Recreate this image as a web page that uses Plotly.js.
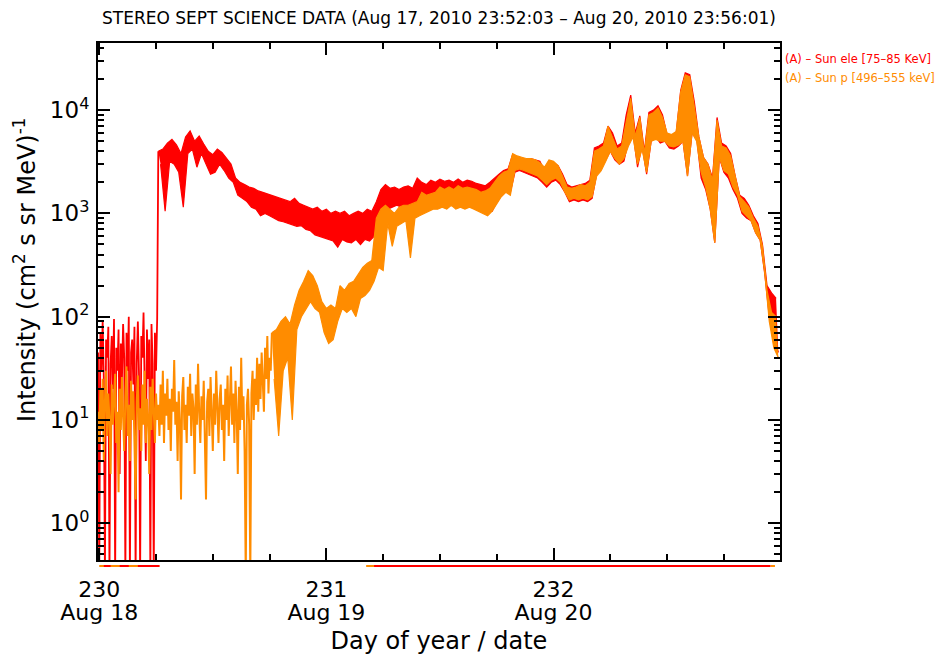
<!DOCTYPE html>
<html>
<head>
<meta charset="utf-8">
<script src="https://cdn.plot.ly/plotly-3.0.1.min.js"></script>
<style>html,body{margin:0;padding:0;background:#fff;}#chart{width:939px;height:655px;}</style>
</head>
<body>
<div id="chart"></div>
<script>
// ---- Finely sampled noisy parts, one value every 0.005 day from the first sample
const tEarly0 = 229.995;
const dtEarly = 0.005;
// electrons before the onset (229.995 - 230.255)
const eleEarly = [
  45, 0.3, 70, 30, 90, 25, 0.3, 60, 40, 80,
  0.3, 35, 65, 20, 95, 0.3, 50, 30, 75, 3,
  55, 25, 85, 40, 0.3, 70, 30, 100, 0.3, 45,
  60, 22, 80, 0.3, 35, 90, 28, 0.3, 65, 40,
  110, 30, 4, 75, 25, 60, 0.3, 85, 35, 0.3,
  70, 30, 95
];
// protons (229.995 - 230.755)
const proEarly = [
  12, 6, 20, 8, 25, 4, 15, 30, 7, 18,
  10, 3, 22, 9, 16, 28, 6, 12, 2, 20,
  8, 26, 11, 5, 17, 33, 7, 14, 4, 24,
  10, 19, 6, 1.7, 15, 27, 8, 13, 5, 22,
  9, 30, 6, 16, 11, 3, 21, 8, 25, 12,
  6, 18, 10,
  14, 7, 22, 9, 30, 6, 18, 11, 25,
  8, 16, 5, 20, 12, 38, 9, 15, 4, 19,
  10, 1.7, 17, 26, 8, 14, 6, 21, 11, 28,
  7, 18, 13, 3, 22, 9, 35, 12, 6, 17,
  10, 24, 8, 1.7, 15, 20, 7, 26, 12, 5,
  18, 9, 30, 11, 6, 16, 22, 8, 14, 4,
  20, 10, 27, 7, 15, 33, 9, 18, 6, 24,
  12, 3, 21, 8, 40, 10, 17, 5, 0.3, 14,
  20, 9, 0.3, 18, 30, 10, 25, 14, 40, 12,
  35, 16, 45, 20, 12, 50, 25, 65, 18, 40, 30
];

// ---- Band envelopes every 0.02 day (upper at t, lower at t+0.01)
const dt = 0.02;
const eleStart = 230.26;
const proStart = 230.76;

// Sun electrons [75-85 keV], from 230.26
const eleHi = [
  4000, 4200, 4800, 5200, 4600, 3800, 5500,
  6300, 5000, 5600, 4700, 4000, 3700, 4200, 3900, 3400, 3000,
  2200, 2000, 1900, 1800, 1750, 1650, 1600, 1550, 1500, 1450,
  1400, 1350, 1300, 1400, 1250, 1200, 1150, 1100, 1150, 1050,
  1100, 1000, 1050, 1000, 1050, 950, 1000, 1050, 1000, 1100,
  1050, 1300, 1700, 1900, 1750, 1800, 1700, 1800, 1850, 1750,
  2200, 2000, 1900, 2100, 2000, 2150, 2050, 2100, 2000, 2150,
  2000, 2100, 2050, 1950, 1900, 1850, 2000, 2200, 2400, 2600,
  2700, 3700, 3500, 3400, 3300, 3400, 3300, 3200, 2600, 3000,
  3100, 2900, 2400, 1900, 1800, 1850, 1900, 1950, 2100, 4300,
  4500, 4800, 7000, 6000, 4500, 4800, 9000, 14000, 6000, 8800,
  4000, 9500, 10000, 11000, 9000, 5800, 5600, 6000, 15500, 23000,
  22000, 12000, 5500, 3500, 3000, 2200, 8500, 4800, 4500, 3800,
  2300, 1500, 1400, 1200, 950, 800, 500, 200, 170, 150
];
const eleLo = [
  3000, 1050, 3200, 3000, 2500, 1150, 3800,
  4200, 2800, 3800, 3000, 2400, 2500, 3000, 2600, 2200, 2000,
  1500, 1400, 1300, 1150, 1100, 950, 1000, 950, 900, 850,
  830, 800, 780, 750, 760, 700, 680, 620, 600, 580,
  560, 540, 470, 560, 530, 520, 560, 500, 560, 540,
  600, 700, 900, 1100, 1150, 1200, 1150, 1150, 1200, 1200,
  1250, 1300, 1350, 1350, 1300, 1350, 1250, 1300, 1250, 1300,
  1250, 1300, 1250, 1200, 1150, 1100, 1050, 1300, 1500, 1700,
  1600, 2500, 2600, 2500, 2400, 2300, 2200, 2000, 1800, 2000,
  2100, 1900, 1600, 1300, 1350, 1300, 1350, 1300, 1400, 2400,
  2800, 3300, 4000, 3300, 3000, 3200, 5000, 6000, 2800, 4500,
  2400, 5000, 5500, 4800, 5000, 4300, 4200, 4500, 5000, 2300,
  6000, 5500, 2200, 1700, 1100, 520, 3500, 2500, 2200, 1700,
  1400, 1000, 900, 850, 650, 550, 260, 100, 60, 45
];

// Sun protons [496-555 keV], from 230.76
const proHi = [
  70, 75,
  90, 100, 85, 130, 180, 220, 280, 250, 200, 140,
  120, 130, 120, 200, 180, 210, 220, 260, 300, 330,
  350, 900, 1100, 1200, 1100, 1000, 1150, 1200, 1200, 1250,
  1300, 1600, 1500, 1550, 1600, 1800, 1700, 1800, 1700, 1850,
  1750, 1800, 1750, 1700, 1600, 1650, 1750, 2000, 2300, 2500,
  2600, 3800, 3600, 3500, 3400, 3400, 3300, 3100, 2800, 3300,
  3200, 2900, 2300, 1800, 1750, 1800, 1900, 1850, 2000, 4000,
  4200, 4500, 7000, 5500, 4200, 4500, 8000, 13000, 5500, 8500,
  3800, 9000, 9500, 10500, 8500, 6000, 5800, 6200, 15000, 22000,
  21000, 11000, 5500, 3500, 3000, 2100, 8000, 4500, 4300, 3600,
  2200, 1450, 1300, 1150, 900, 750, 480, 180, 110, 100
];
const proLo = [
  25, 7,
  30, 40, 10, 75, 100, 120, 140, 120, 110, 70,
  55, 60, 90, 120, 110, 120, 100, 150, 160, 180,
  220, 300, 280, 800, 480, 750, 800, 850, 370, 900,
  950, 1000, 1050, 1100, 1100, 1150, 1100, 1200, 1100, 1150,
  1100, 1150, 1100, 1050, 1000, 950, 1050, 1250, 1450, 1600,
  1500, 2600, 2700, 2600, 2500, 2400, 2300, 2100, 1900, 2100,
  2200, 2000, 1600, 1350, 1400, 1350, 1400, 1350, 1450, 2300,
  2600, 3200, 4000, 3400, 3000, 3400, 4500, 5500, 3000, 4200,
  2500, 5000, 5200, 5000, 5000, 4500, 4400, 4600, 5000, 2300,
  6000, 5000, 2500, 1800, 1100, 520, 3500, 2600, 2400, 1800,
  1500, 1050, 950, 850, 650, 550, 270, 90, 50, 40
];

// Flag strip below the axis (time intervals)
const flagOrangeX = [230.00, 230.265, null, 231.175, 231.215, null, 232.955, 232.975];
const flagRedX = [230.02, 230.05, null, 230.09, 230.13, null, 230.17, 230.265, null, 231.21, 232.955];

// Axis / labels
const xRange = [229.9945, 232.9972];
const xMajor = [230, 231, 232];
const xDays = ['230', '231', '232'];
const xDates = ['Aug 18', 'Aug 19', 'Aug 20'];
const xMinor = [230.25, 230.5, 230.75, 231.25, 231.5, 231.75, 232.25, 232.5, 232.75];
const yMajor = [1, 10, 100, 1000, 10000];
const yLabels = ['10<sup>0</sup>', '10<sup>1</sup>', '10<sup>2</sup>', '10<sup>3</sup>', '10<sup>4</sup>'];
const yMinor = [];
for (let k = -1; k <= 4; k++) for (let m = 2; m <= 9; m++) yMinor.push(m * Math.pow(10, k));

const titleText = 'STEREO SEPT SCIENCE DATA (Aug 17, 2010 23:52:03 \u2013 Aug 20, 2010 23:56:01)';
const xTitle = 'Day of year / date';
const yTitle = 'Intensity (cm<sup>2</sup> s sr MeV)<sup>-1</sup>';
const legendEle = '(A) \u2013 Sun ele [75\u201385 KeV]';
const legendPro = '(A) \u2013 Sun p [496\u2013555 keV]';

const RED = '#ff0000', ORANGE = '#ff8c00';

function buildEnvelope(vals, start, offset) {
  return {x: vals.map((_, i) => start + i * dt + offset), y: vals.slice()};
}
function buildEarly(v) {
  return {x: v.map((_, j) => tEarly0 + j * dtEarly), y: v.slice()};
}
const eleA = buildEarly(eleEarly), proA = buildEarly(proEarly);
const eleU = buildEnvelope(eleHi, eleStart, 0), eleL = buildEnvelope(eleLo, eleStart, dt / 2);
const proU = buildEnvelope(proHi, proStart, 0), proL = buildEnvelope(proLo, proStart, dt / 2);
// join the fine parts to the bands
eleA.x.push(eleU.x[0]); eleA.y.push(eleU.y[0]);
proA.x.push(proU.x[0]); proA.y.push(proU.y[0]);
const flagVal = v => v.map(d => d === null ? null : 1);

const FONT = 'DejaVu Sans';
const traces = [
  {x: eleA.x, y: eleA.y, type: 'scatter', mode: 'lines', line: {color: RED, width: 1.8}, hoverinfo: 'skip'},
  {x: eleL.x, y: eleL.y, type: 'scatter', mode: 'lines', line: {color: RED, width: 1.2}, hoverinfo: 'skip'},
  {x: eleU.x, y: eleU.y, type: 'scatter', mode: 'lines', line: {color: RED, width: 1.2}, fill: 'tonexty', fillcolor: RED, hoverinfo: 'skip'},
  {x: proA.x, y: proA.y, type: 'scatter', mode: 'lines', line: {color: ORANGE, width: 2}, hoverinfo: 'skip'},
  {x: proL.x, y: proL.y, type: 'scatter', mode: 'lines', line: {color: ORANGE, width: 1.2}, hoverinfo: 'skip'},
  {x: proU.x, y: proU.y, type: 'scatter', mode: 'lines', line: {color: ORANGE, width: 1.2}, fill: 'tonexty', fillcolor: ORANGE, hoverinfo: 'skip'},
  {x: flagOrangeX, y: flagVal(flagOrangeX), yaxis: 'y2', type: 'scatter', mode: 'lines', line: {color: ORANGE, width: 2}, hoverinfo: 'skip'},
  {x: flagRedX, y: flagVal(flagRedX), yaxis: 'y2', type: 'scatter', mode: 'lines', line: {color: RED, width: 2}, hoverinfo: 'skip'},
  {x: [null], y: [null], xaxis: 'x2', yaxis: 'y', type: 'scatter', mode: 'lines', hoverinfo: 'skip'}
];

const axisCommon = {
  showline: true, linecolor: '#000', linewidth: 2, mirror: 'ticks',
  ticks: 'inside', ticklen: 12, tickwidth: 2, tickcolor: '#000',
  showgrid: false, zeroline: false,
  tickfont: {family: FONT, size: 22, color: '#000'}
};

const layout = {
  width: 939, height: 655,
  margin: {l: 98, r: 159, t: 43, b: 85},
  paper_bgcolor: '#fff', plot_bgcolor: '#fff',
  showlegend: false,
  font: {family: FONT, color: '#000'},
  title: {text: titleText, font: {family: FONT, size: 17, color: '#000'}, x: 0.5, xref: 'paper', y: 1 - 18 / 655, yref: 'container', yanchor: 'middle'},
  xaxis: Object.assign({}, axisCommon, {
    range: xRange, anchor: 'y',
    tickmode: 'array', tickvals: xMajor, ticktext: xDays,
    ticklabelstandoff: 9,
    minor: {tickmode: 'array', tickvals: xMinor, ticks: 'inside', ticklen: 6, tickwidth: 2, tickcolor: '#000'}
  }),
  xaxis2: {
    overlaying: 'x', matches: 'x', anchor: 'y', side: 'bottom',
    tickmode: 'array', tickvals: xMajor, ticktext: xDates,
    ticks: '', showline: false, showgrid: false, zeroline: false,
    ticklabelstandoff: 37,
    tickfont: {family: FONT, size: 22, color: '#000'},
    title: {text: xTitle, font: {family: FONT, size: 24, color: '#000'}}
  },
  yaxis: Object.assign({}, axisCommon, {
    type: 'log', range: [-0.356, 4.65], domain: [10 / 527, 1], anchor: 'x',
    tickmode: 'array', tickvals: yMajor, ticktext: yLabels,
    ticklabelstandoff: 2,
    tickfont: {family: FONT, size: 23, color: '#000'},
    minor: {tickmode: 'array', tickvals: yMinor, ticks: 'inside', ticklen: 6, tickwidth: 2, tickcolor: '#000'}
  }),
  yaxis2: {domain: [0, 8 / 527], range: [0, 2], visible: false, anchor: 'x', fixedrange: true},
  annotations: [
    {text: yTitle, xref: 'paper', yref: 'paper', x: (25 - 98) / 682, y: (570 - 270) / 527, xanchor: 'center', yanchor: 'middle', textangle: -90, showarrow: false, font: {family: FONT, size: 24, color: '#000'}},
    {text: legendEle, xref: 'paper', yref: 'paper', x: 1, y: 1, xanchor: 'left', yanchor: 'top', xshift: 3, yshift: -7, showarrow: false, font: {family: FONT, size: 11.5, color: RED}},
    {text: legendPro, xref: 'paper', yref: 'paper', x: 1, y: 1, xanchor: 'left', yanchor: 'top', xshift: 3, yshift: -26, showarrow: false, font: {family: FONT, size: 11.5, color: ORANGE}}
  ]
};

Plotly.newPlot('chart', traces, layout, {displayModeBar: false, staticPlot: true});
</script>
</body>
</html>
